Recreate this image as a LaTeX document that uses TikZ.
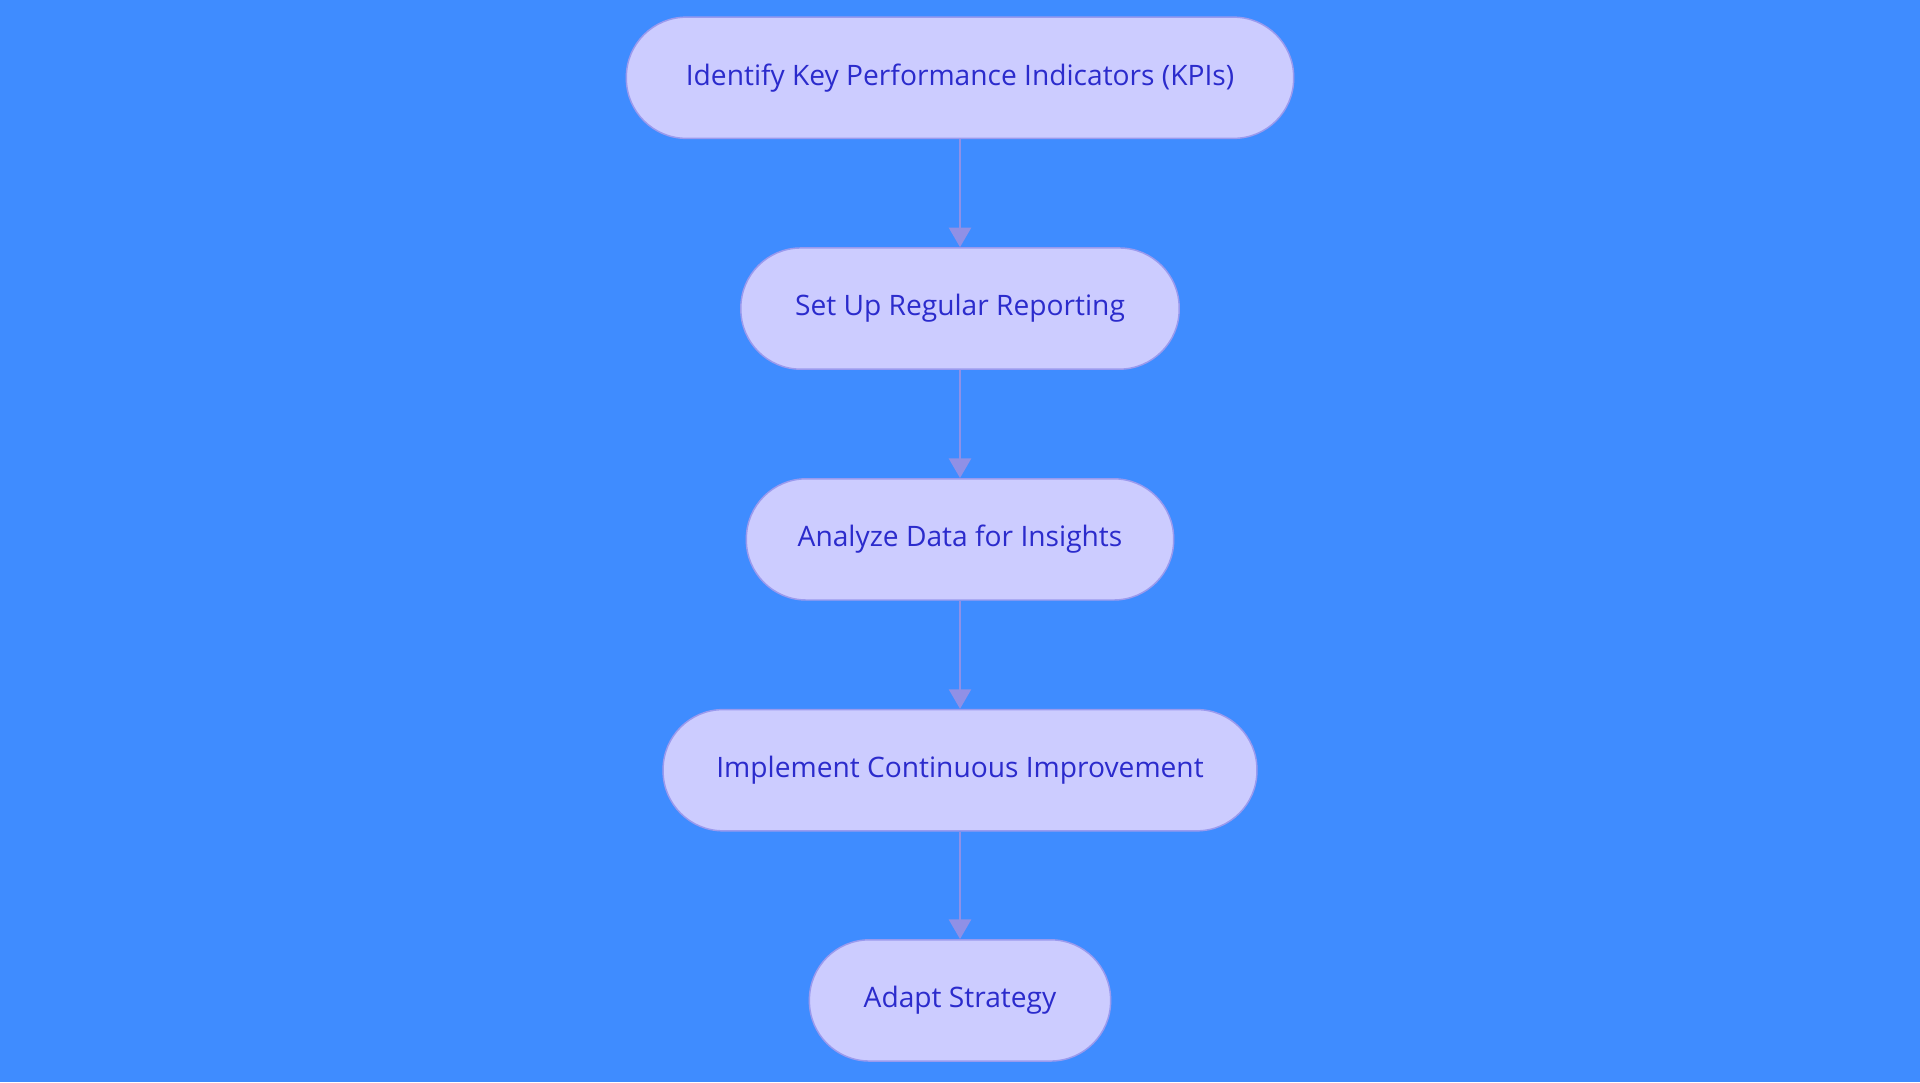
\documentclass[tikz,border=0pt]{standalone}
\usepackage{fontspec}
\setmainfont{Open Sans}
\usetikzlibrary{arrows.meta}
\definecolor{bg}{HTML}{3F8CFF}
\definecolor{nf}{HTML}{CCCCFF}
\definecolor{nd}{HTML}{9A9AEE}
\definecolor{tx}{HTML}{2B2BCC}
\definecolor{ar}{HTML}{9090E6}
\begin{document}
\begin{tikzpicture}[x=1pt,y=-1pt,
  box/.style={draw=nd,line width=1.2pt,fill=nf,rounded corners=49pt,minimum height=99pt,text=tx,font=\fontsize{23}{28}\selectfont},
  arr/.style={draw=ar,line width=2pt,-{Triangle[length=16pt,width=18pt]}}]
\fill[bg] (0,0) rectangle (1568,884);
\useasboundingbox (0,0) rectangle (1568,884);
\node[box,minimum width=545pt] (a) at (784,63.5) {Identify Key Performance Indicators (KPIs)};
\node[box,minimum width=358pt] (b) at (784,252) {Set Up Regular Reporting};
\node[box,minimum width=349pt] (c) at (784,440.5) {Analyze Data for Insights};
\node[box,minimum width=485pt] (d) at (784,629) {Implement Continuous Improvement};
\node[box,minimum width=246pt] (e) at (784,817) {Adapt Strategy};
\draw[arr] (a) -- (b);
\draw[arr] (b) -- (c);
\draw[arr] (c) -- (d);
\draw[arr] (d) -- (e);
\end{tikzpicture}
\end{document}
